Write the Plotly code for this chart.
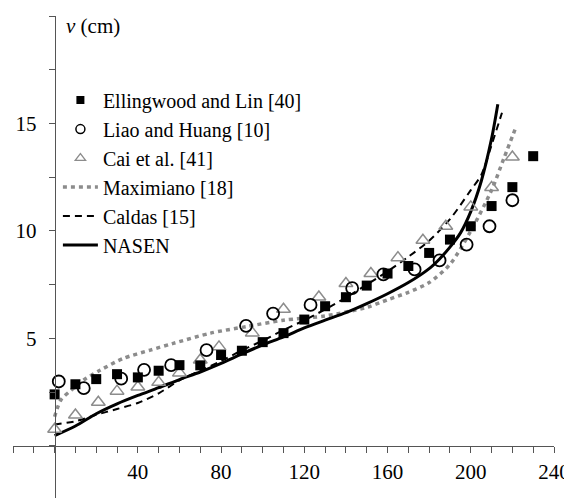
import plotly.graph_objects as go

# ---- data ----
ell_t = [0, 10, 20, 30, 40, 50, 60, 70, 80, 90, 100, 110, 120, 130, 140, 150,
         160, 170, 180, 190, 200, 210, 220, 230]
ell_v = [2.40, 2.87, 3.11, 3.34, 3.19, 3.50, 3.76, 3.75, 4.23, 4.43, 4.83, 5.25,
         5.88, 6.50, 6.92, 7.46, 8.02, 8.37, 8.98, 9.60, 10.22, 11.16, 12.04, 13.48]

liao_t = [2, 14, 32, 43, 56, 73, 92, 105, 123, 143, 158, 173, 185, 198, 209, 220]
liao_v = [3.00, 2.69, 3.13, 3.54, 3.76, 4.46, 5.59, 6.16, 6.56, 7.34, 7.98, 8.21,
          8.63, 9.37, 10.22, 11.43]

cai_t = [0, 10, 21, 30, 40, 50, 60, 70, 79, 95, 110, 127, 140, 152, 165, 177,
         188, 200, 210, 220]
cai_v = [0.78, 1.44, 2.03, 2.55, 2.74, 2.96, 3.40, 4.00, 4.61, 5.26, 6.36, 6.93,
         7.56, 8.02, 8.76, 9.57, 10.22, 11.12, 12.02, 13.44]

max_t = [0, 3, 8, 14, 22, 33, 46, 57, 75, 92, 110, 130, 150, 160, 170, 180, 190,
         200, 210, 216, 222]
max_v = [1.36, 2.14, 2.60, 3.07, 3.53, 4.07, 4.46, 4.77, 5.25, 5.55, 5.85, 6.05,
         6.45, 6.80, 7.15, 7.60, 8.45, 10.0, 11.9, 13.4, 14.9]

cal_t = [0, 10, 20, 30, 40, 50, 60, 70, 80, 90, 100, 110, 120, 130, 140, 150,
         160, 170, 180, 190, 200, 205, 210, 215]
cal_v = [1.00, 1.15, 1.45, 1.72, 2.00, 2.45, 3.05, 3.50, 3.95, 4.45, 4.90, 5.39,
         5.85, 6.35, 6.90, 7.50, 8.12, 8.80, 9.55, 10.55, 11.9, 12.6, 14.0, 15.5]

nas_t = [0, 10, 20, 30, 40, 50, 60, 70, 80, 90, 100, 110, 120, 130, 140, 150,
         160, 170, 180, 185, 190, 195, 200, 205, 210, 213]
nas_v = [0.48, 0.93, 1.50, 1.96, 2.35, 2.71, 3.09, 3.44, 3.84, 4.28, 4.70, 5.07,
         5.49, 5.85, 6.20, 6.62, 7.08, 7.60, 8.25, 8.70, 9.25, 9.90, 10.9, 12.3,
         14.3, 15.9]

x_tick_labels = [40, 80, 120, 160, 200, 240]
y_tick_labels = [5, 10, 15, 20]

# ---- styling ----
FONT = "Times New Roman"
GRAY = "#8c8c8c"
AXIS = "#555555"
XMIN, XMAX = -20, 240
YMIN, YMAX = -2.42, 20

fig = go.Figure()

fig.add_trace(go.Scatter(x=max_t, y=max_v, mode="lines", name="Maximiano [18]",
                         line=dict(color=GRAY, width=3.5, dash="4px,4px", shape="spline", smoothing=0.8),
                         legendrank=4))
fig.add_trace(go.Scatter(x=cal_t, y=cal_v, mode="lines", name="Caldas [15]",
                         line=dict(color="black", width=2, dash="7px,5px", shape="spline", smoothing=0.8),
                         legendrank=5))
fig.add_trace(go.Scatter(x=nas_t, y=nas_v, mode="lines", name="NASEN",
                         line=dict(color="black", width=3, shape="spline", smoothing=0.8),
                         legendrank=6))
fig.add_trace(go.Scatter(x=cai_t, y=cai_v, mode="markers", name="Cai et al. [41]",
                         marker=dict(symbol="triangle-up-open", size=12, color=GRAY,
                                     line=dict(width=1.5, color=GRAY)),
                         showlegend=False))
fig.add_trace(go.Scatter(x=liao_t, y=liao_v, mode="markers", name="Liao and Huang [10]",
                         marker=dict(symbol="circle-open", size=12, color="black",
                                     line=dict(width=1.8, color="black")),
                         showlegend=False))
fig.add_trace(go.Scatter(x=ell_t, y=ell_v, mode="markers", name="Ellingwood and Lin [40]",
                         marker=dict(symbol="square", size=10, color="black"),
                         showlegend=False))
# legend entries for the marker series (smaller symbols, as in the reference legend)
fig.add_trace(go.Scatter(x=[None], y=[None], mode="markers", name="Ellingwood and Lin [40]",
                         marker=dict(symbol="square", size=8, color="black"), legendrank=1))
fig.add_trace(go.Scatter(x=[None], y=[None], mode="markers", name="Liao and Huang [10]",
                         marker=dict(symbol="circle-open", size=9, color="black",
                                     line=dict(width=1.5, color="black")), legendrank=2))
fig.add_trace(go.Scatter(x=[None], y=[None], mode="markers", name="Cai et al. [41]",
                         marker=dict(symbol="triangle-up-open", size=9, color=GRAY,
                                     line=dict(width=1.3, color=GRAY)), legendrank=3))

ypos = (0 - YMIN) / (YMAX - YMIN)
xpos = (0 - XMIN) / (XMAX - XMIN)

fig.update_layout(
    width=564, height=490,
    margin=dict(l=5, r=18, t=8, b=0, autoexpand=False),
    paper_bgcolor="white", plot_bgcolor="white",
    font=dict(family=FONT, size=21, color="black"),
    showlegend=True,
    legend=dict(x=0.083, y=0.866, xanchor="left", yanchor="top",
                bgcolor="rgba(0,0,0,0)", font=dict(family=FONT, size=20, color="black"),
                itemwidth=35, tracegroupgap=0),
    xaxis=dict(range=[XMIN, XMAX], anchor="free", position=ypos, automargin=False,
               showline=True, linecolor=AXIS, linewidth=1,
               showgrid=False, zeroline=False,
               tickvals=x_tick_labels, ticks="outside", ticklen=6, tickcolor=AXIS,
               ticklabelstandoff=1,
               minor=dict(dtick=10, tick0=0, ticks="outside", ticklen=6, tickcolor=AXIS, showgrid=False),
               tickfont=dict(family=FONT, size=21, color="black")),
    yaxis=dict(range=[YMIN, YMAX], anchor="free", position=xpos, automargin=False,
               showline=True, linecolor=AXIS, linewidth=1,
               showgrid=False, zeroline=False,
               tickvals=y_tick_labels, ticks="outside", ticklen=6, tickcolor=AXIS,
               ticklabelstandoff=8,
               minor=dict(dtick=2.5, tick0=0, ticks="outside", ticklen=6, tickcolor=AXIS, showgrid=False),
               tickfont=dict(family=FONT, size=21, color="black")),
    annotations=[
        dict(x=4.3, y=19.55, xref="x", yref="y", text="<i>v</i> (cm)", showarrow=False,
             xanchor="left", yanchor="middle", font=dict(family=FONT, size=21, color="black")),
        dict(x=243, y=0.9, xref="x", yref="y", text="<i>t</i> (min)", showarrow=False,
             xanchor="right", yanchor="middle", font=dict(family=FONT, size=21, color="black")),
    ],
)

fig.write_html("out.html")
